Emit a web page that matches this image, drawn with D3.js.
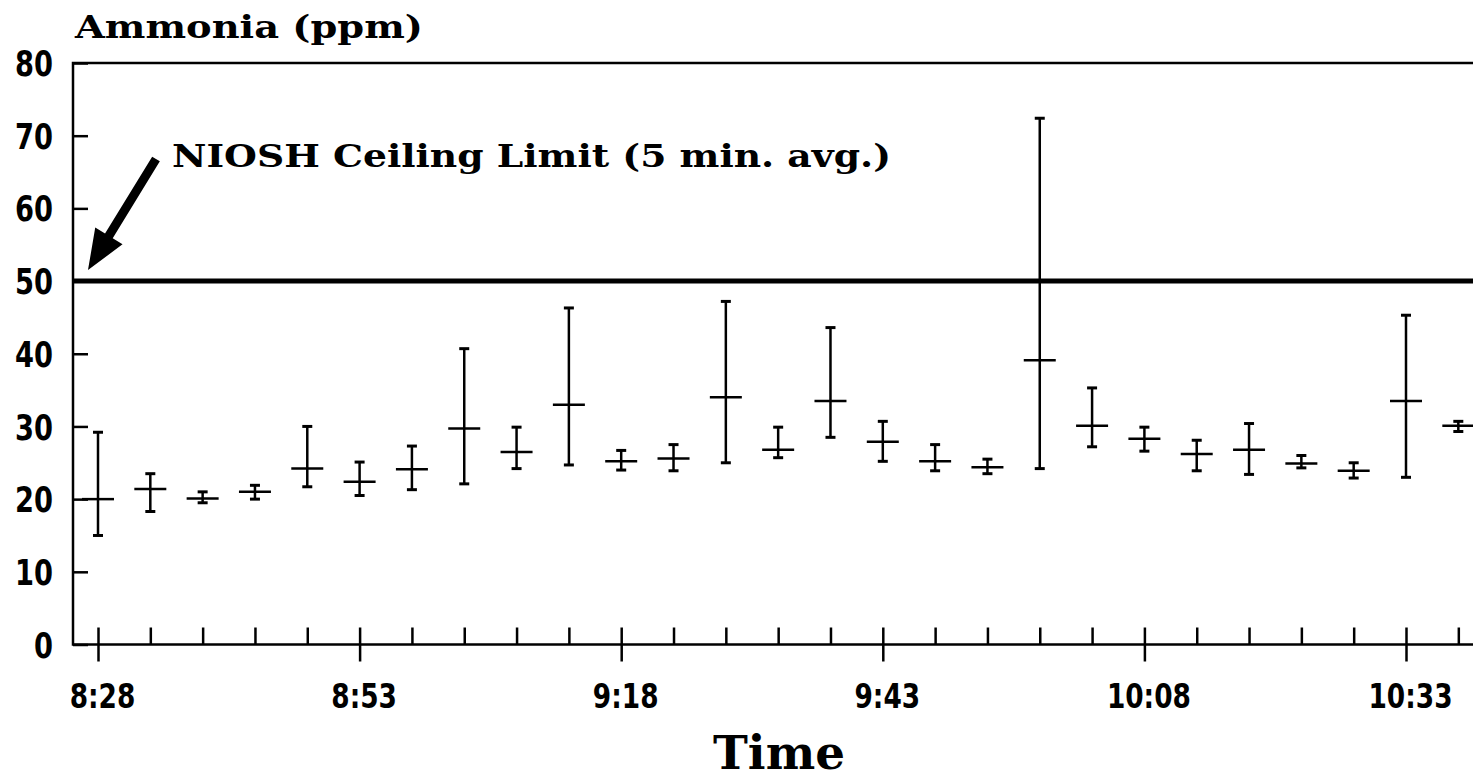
<!DOCTYPE html>
<html>
<head>
<meta charset="utf-8">
<script src="https://cdn.jsdelivr.net/npm/d3@7"></script>
<style>
  body { margin: 0; background: #fff; }
  svg { display: block; }
</style>
</head>
<body>
<div id="chart"></div>
<script>
var svgWidth = 1473;
var svgHeight = 782;

// sampling times (5 min apart) and ammonia readings (ppm)
var times = ["8:28", "8:33", "8:38", "8:43", "8:48", "8:53", "8:58", "9:03", "9:08",
  "9:13", "9:18", "9:23", "9:28", "9:33", "9:38", "9:43", "9:48", "9:53", "9:58",
  "10:03", "10:08", "10:13", "10:18", "10:23", "10:28", "10:33", "10:38"];
var means = [20.0, 21.4, 20.1, 21.0, 24.2, 22.4, 24.1, 29.7, 26.5,
  33.0, 25.2, 25.6, 34.0, 26.8, 33.5, 27.9, 25.2, 24.4, 39.1,
  30.1, 28.3, 26.2, 26.8, 24.9, 23.9, 33.5, 30.1];
var highs = [29.2, 23.5, 21.0, 21.9, 30.0, 25.1, 27.3, 40.7, 29.9,
  46.3, 26.7, 27.5, 47.2, 29.9, 43.6, 30.7, 27.5, 25.5, 72.4,
  35.3, 29.9, 28.1, 30.4, 26.0, 25.0, 45.3, 30.7];
var lows = [15.0, 18.3, 19.5, 20.0, 21.7, 20.5, 21.3, 22.1, 24.2,
  24.7, 24.0, 23.9, 25.0, 25.7, 28.5, 25.2, 23.9, 23.5, 24.2,
  27.2, 26.6, 23.9, 23.4, 24.3, 22.9, 23.0, 29.3];

var yTicks = [0, 10, 20, 30, 40, 50, 60, 70, 80];
var labelledTimes = ["8:28", "8:53", "9:18", "9:43", "10:08", "10:33"];
var ceilingLimit = 50;

function toMinutes(t) {
  var p = t.split(":");
  return +p[0] * 60 + +p[1];
}

var data = times.map(function(t, i) {
  return { time: t, min: toMinutes(t), mean: means[i], high: highs[i], low: lows[i] };
});

var plotLeft = 73;
var plotTop = 63;
var plotBottom = 644.5;
var plotRight = svgWidth;

var svg = d3.select("#chart")
  .append("svg")
  .attr("width", svgWidth)
  .attr("height", svgHeight);

var x = d3.scaleLinear()
  .domain([toMinutes("8:28"), toMinutes("10:33")])
  .range([98, 1406]);

var y = d3.scaleLinear()
  .domain([0, 80])
  .range([plotBottom, plotTop]);

// y axis with short inward ticks
var yAxis = svg.append("g")
  .attr("transform", `translate(${plotLeft},0)`)
  .call(d3.axisLeft(y).tickValues(yTicks).tickSize(-15).tickSizeOuter(0));
yAxis.select(".domain").remove();
yAxis.selectAll("line").attr("stroke", "#000").attr("stroke-width", 2.5);
yAxis.selectAll("text")
  .attr("x", 0)
  .attr("dy", "0.36em")
  .attr("fill", "#000")
  .attr("transform", "translate(-20,0) scale(0.78,1)")
  .style("font-family", "'DejaVu Sans', sans-serif")
  .style("font-weight", "bold")
  .style("font-size", "35px");

// minor ticks every 5 minutes (upward)
var minorAxis = svg.append("g")
  .attr("transform", `translate(0,${plotBottom})`)
  .call(d3.axisBottom(x).tickValues(data.map(d => d.min)).tickSize(-17).tickSizeOuter(0).tickFormat(""));
minorAxis.select(".domain").remove();
minorAxis.selectAll("line").attr("stroke", "#000").attr("stroke-width", 2.5);

// labelled ticks cross the axis
var majorAxis = svg.append("g")
  .attr("transform", `translate(0,${plotBottom})`)
  .call(d3.axisBottom(x).tickValues(labelledTimes.map(toMinutes)).tickSize(17).tickSizeOuter(0)
    .tickFormat((d, i) => labelledTimes[i]));
majorAxis.select(".domain").remove();
majorAxis.selectAll("line").attr("stroke", "#000").attr("stroke-width", 2.5);
majorAxis.selectAll("text")
  .attr("y", 0)
  .attr("dy", 0)
  .attr("fill", "#000")
  .attr("transform", "translate(4,63) scale(0.8,1)")
  .style("font-family", "'DejaVu Sans', sans-serif")
  .style("font-weight", "bold")
  .style("font-size", "33px");

// frame: left, top, bottom
svg.append("path")
  .attr("d", `M${plotRight},${plotTop}H${plotLeft}V${plotBottom}H${plotRight}`)
  .attr("fill", "none")
  .attr("stroke", "#000")
  .attr("stroke-width", 2.5);

// ceiling limit line
svg.append("line")
  .attr("x1", plotLeft).attr("x2", plotRight)
  .attr("y1", y(ceilingLimit)).attr("y2", y(ceilingLimit))
  .attr("stroke", "#000")
  .attr("stroke-width", 5);

// error bars
var bars = svg.append("g").selectAll("g")
  .data(data)
  .enter()
  .append("g")
  .attr("stroke", "#000");

bars.append("line")
  .attr("x1", d => x(d.min)).attr("x2", d => x(d.min))
  .attr("y1", d => y(d.high)).attr("y2", d => y(d.low))
  .attr("stroke-width", 2.5);

bars.append("line")
  .attr("x1", d => x(d.min) - 5).attr("x2", d => x(d.min) + 5)
  .attr("y1", d => y(d.high)).attr("y2", d => y(d.high))
  .attr("stroke-width", 3);

bars.append("line")
  .attr("x1", d => x(d.min) - 5).attr("x2", d => x(d.min) + 5)
  .attr("y1", d => y(d.low)).attr("y2", d => y(d.low))
  .attr("stroke-width", 3);

bars.append("line")
  .attr("x1", d => x(d.min) - 16).attr("x2", d => x(d.min) + 16)
  .attr("y1", d => y(d.mean)).attr("y2", d => y(d.mean))
  .attr("stroke-width", 2.5);

// arrow pointing at the limit line
var tip = [plotLeft + 15, y(ceilingLimit) - 11];
var tail = [156, 159];
var dx = tail[0] - tip[0], dy = tail[1] - tip[1];
var len = Math.sqrt(dx * dx + dy * dy);
var ux = dx / len, uy = dy / len;
var px = -uy, py = ux;
var headLen = 40, headHalf = 16, shaftHalf = 4.5;
var base = [tip[0] + ux * headLen, tip[1] + uy * headLen];
var arrowPts = [
  tip,
  [base[0] + px * headHalf, base[1] + py * headHalf],
  [base[0] + px * shaftHalf, base[1] + py * shaftHalf],
  [tail[0] + px * shaftHalf, tail[1] + py * shaftHalf],
  [tail[0] - px * shaftHalf, tail[1] - py * shaftHalf],
  [base[0] - px * shaftHalf, base[1] - py * shaftHalf],
  [base[0] - px * headHalf, base[1] - py * headHalf]
];
svg.append("path")
  .attr("d", d3.line()(arrowPts) + "Z")
  .attr("fill", "#000");

svg.append("text")
  .attr("x", 172)
  .attr("y", 167)
  .attr("textLength", 719)
  .attr("lengthAdjust", "spacingAndGlyphs")
  .style("font-family", "'DejaVu Serif', serif")
  .style("font-weight", "bold")
  .style("font-size", "32px")
  .text("NIOSH Ceiling Limit (5 min. avg.)");

// axis titles
svg.append("text")
  .attr("x", 75)
  .attr("y", 38)
  .attr("textLength", 348)
  .attr("lengthAdjust", "spacingAndGlyphs")
  .style("font-family", "'DejaVu Serif', serif")
  .style("font-weight", "bold")
  .style("font-size", "31px")
  .text("Ammonia (ppm)");

svg.append("text")
  .attr("x", 713)
  .attr("y", 769)
  .attr("textLength", 132)
  .attr("lengthAdjust", "spacingAndGlyphs")
  .style("font-family", "'DejaVu Serif', serif")
  .style("font-weight", "bold")
  .style("font-size", "47px")
  .text("Time");
</script>
</body>
</html>
